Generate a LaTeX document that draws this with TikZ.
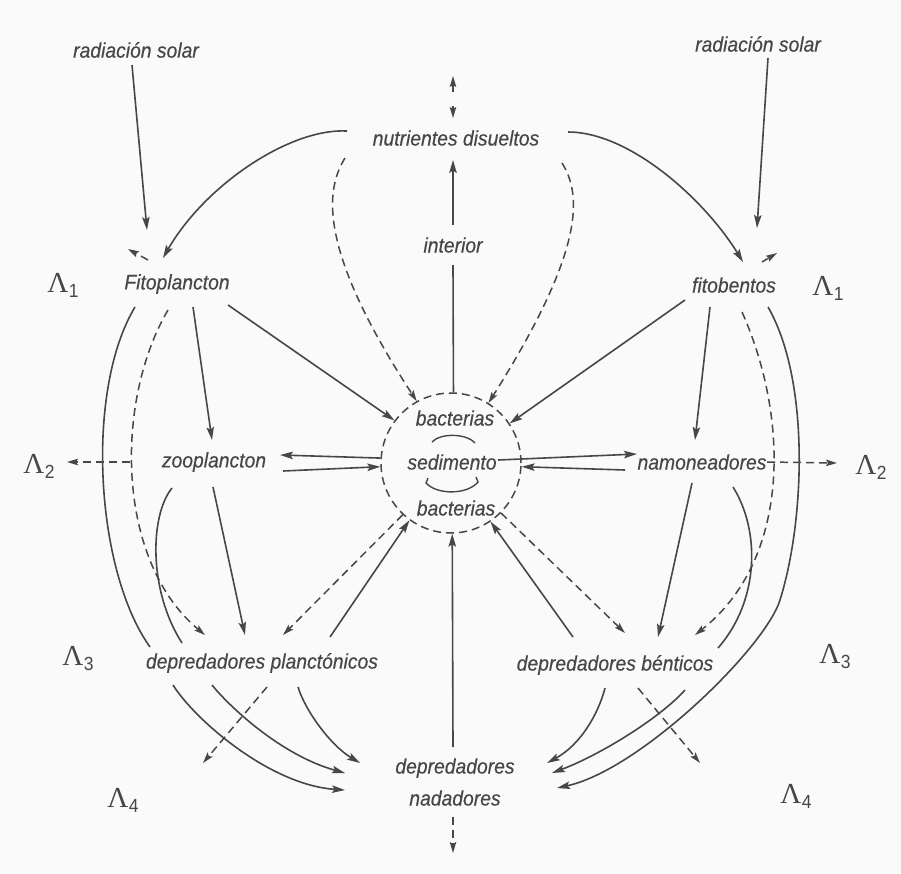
\documentclass[tikz,border=0pt]{standalone}
\usepackage{fontspec}
\setmainfont{Liberation Sans}[FakeStretch=0.92, ItalicFeatures={FakeBold=0.35}]
\newfontfamily\lamserif{Liberation Serif}
\usetikzlibrary{arrows.meta}
\definecolor{ink}{HTML}{474747}
\definecolor{paper}{HTML}{FAFAFA}
\newcommand{\lblfont}{\fontsize{21}{32}\selectfont\itshape}
\newcommand{\Lsym}[1]{{\lamserif\fontsize{29}{30}\selectfont Λ}\kern0.5pt\raisebox{-5pt}{\fontsize{19}{20}\selectfont #1}}
\tikzset{
  lbl/.style={font=\lblfont, text=ink, inner sep=1pt, align=center},
  lam/.style={text=ink, inner sep=0pt},
  con/.style={draw=ink, line width=1.6pt},
  arr/.style={con, -{Stealth[length=13pt,width=7.5pt,inset=2.5pt]}},
  dsh/.style={dash pattern=on 8pt off 5pt},
  dasharr/.style={con, line width=1.5pt, dsh, -{Stealth[length=11pt,width=6.5pt,inset=2pt]}},
}
\begin{document}
\begin{tikzpicture}[x=1pt,y=-1pt]
\fill[paper] (0,0) rectangle (901,873);
\useasboundingbox (0,0) rectangle (901,873);

% labels
\node[lbl] (rsL) at (136,50) {radiación solar};
\node[lbl] (rsR) at (758,44) {radiación solar};
\node[lbl] (nut) at (456,138) {nutrientes disueltos};
\node[lbl] (int) at (453,245) {interior};
\node[lbl] (fito) at (177,284) {Fitoplancton};
\node[lbl] (fbent) at (734,285) {fitobentos};
\node[lbl] (zoo) at (214,462) {zooplancton};
\node[lbl] (namo) at (702,462) {namoneadores};
\node[draw=ink, line width=1.5pt, dsh, circle, minimum size=140pt, inner sep=0pt] (sed) at (451,463) {};
\node[lbl] (bac1) at (455,418) {bacterias};
\node[lbl] (sedt) at (452,462) {sedimento};
\node[lbl] (bac2) at (456,508) {bacterias};
\node[lbl] (dplan) at (262,663) {depredadores planctónicos};
\node[lbl] (dbent) at (615,665) {depredadores bénticos};
\node[lbl] (dnad) at (455,782) {depredadores\\nadadores};

\node[lam] (L1a) at (63,285) {\Lsym{1}};
\node[lam] (L1b) at (828,288) {\Lsym{1}};
\node[lam] (L2a) at (39,466) {\Lsym{2}};
\node[lam] (L2b) at (871,467) {\Lsym{2}};
\node[lam] (L3a) at (78,659) {\Lsym{3}};
\node[lam] (L3b) at (835,657) {\Lsym{3}};
\node[lam] (L4a) at (123,800) {\Lsym{4}};
\node[lam] (L4b) at (796,796) {\Lsym{4}};

% arcs inside the sediment circle
\draw[con, line width=1.4pt] (432,442) .. controls (440,433) and (466,433) .. (475,443);
\draw[con, line width=1.4pt] (428,478) -- (426,483) .. controls (437,495) and (467,495) .. (478,482) -- (476,477);

% top
\draw[arr] ([shift={(-4,15)}]rsL.center) -- ([shift={(-30,-54)}]fito.center);
\draw[dasharr] ([shift={(-29,-24)}]fito.center) -- ([shift={(-49,-35)}]fito.center);
\draw[arr] ([shift={(-109,-7)}]nut.center) .. controls (290,128) and (205,185) .. ([shift={(-14,-26)}]fito.center);
\draw[arr] ([shift={(10,14)}]rsR.center) -- ([shift={(23,-57)}]fbent.center);
\draw[dasharr] ([shift={(28,-23)}]fbent.center) -- ([shift={(43,-32)}]fbent.center);
\draw[arr] ([shift={(112,-6)}]nut.center) .. controls (630,132) and (705,200) .. ([shift={(9,-23)}]fbent.center);
\draw[dasharr] ([shift={(-3,-46)}]nut.center) -- ([shift={(-3,-62)}]nut.center);
\draw[dasharr] ([shift={(-3,-32)}]nut.center) -- ([shift={(-3,-20)}]nut.center);
\draw[arr] ([shift={(0,-20)}]int.center) -- ([shift={(-3,22)}]nut.center);
\draw[con] (sed.88) -- ([shift={(0,20)}]int.center);
\draw[dasharr] ([shift={(-111,20)}]nut.center) .. controls (325,190) and (318,250) .. (sed.119);
\draw[dasharr] ([shift={(106,25)}]nut.center) .. controls (582,195) and (585,250) .. (sed.58);

% producers to sediment / consumers
\draw[arr] ([shift={(51,21)}]fito.center) -- (sed.143);
\draw[arr] ([shift={(-49,15)}]fbent.center) -- (sed.34);
\draw[arr] ([shift={(16,23)}]fito.center) -- ([shift={(-2,-22)}]zoo.center);
\draw[arr] ([shift={(-24,22)}]fbent.center) -- ([shift={(-7,-22)}]namo.center);

% horizontal exchanges
\draw[arr] (sed.176) -- ([shift={(66,-7)}]zoo.center);
\draw[arr] ([shift={(69,9)}]zoo.center) -- (sed.183);
\draw[arr] ([shift={(46,-2)}]sedt.center) -- ([shift={(-65,-8)}]namo.center);
\draw[arr] ([shift={(-77,8)}]namo.center) -- (sed.357);
\draw[dasharr] ([shift={(-84,0)}]zoo.center) -- ([shift={(28,-4)}]L2a.center);
\draw[dasharr] ([shift={(65,0)}]namo.center) -- ([shift={(-34,-4)}]L2b.center);

% left side
\draw[con] ([shift={(-42,23)}]fito.center) .. controls (85,390) and (95,570) .. ([shift={(-112,-16)}]dplan.center);
\draw[arr] ([shift={(-89,22)}]dplan.center) .. controls (195,720) and (270,785) .. ([shift={(-110,8)}]dnad.center);
\draw[con] ([shift={(-42,26)}]zoo.center) .. controls (150,515) and (148,590) .. ([shift={(-80,-20)}]dplan.center);
\draw[arr] ([shift={(-50,22)}]dplan.center) .. controls (228,705) and (280,755) .. ([shift={(-110,-9)}]dnad.center);
\draw[arr] ([shift={(36,24)}]dplan.center) .. controls (305,710) and (330,745) .. ([shift={(-95,-19)}]dnad.center);
\draw[dasharr] ([shift={(-9,26)}]fito.center) .. controls (115,400) and (115,560) .. ([shift={(-57,-28)}]dplan.center);
\draw[arr] ([shift={(-1,25)}]zoo.center) -- ([shift={(-17,-28)}]dplan.center);
\draw[dasharr] (sed.227) -- ([shift={(21,-28)}]dplan.center);
\draw[arr] ([shift={(68,-26)}]dplan.center) -- (sed.234);
\draw[dasharr] ([shift={(5,24)}]dplan.center) -- ([shift={(80,-37)}]L4a.center);

% centre bottom
\draw[arr] ([shift={(-2,-35)}]dnad.center) -- (sed.271);
\draw[dasharr] ([shift={(-2,35)}]dnad.center) -- ([shift={(-2,71)}]dnad.center);

% right side
\draw[arr] ([shift={(-42,-28)}]dbent.center) -- (sed.304);
\draw[dasharr] (sed.315) -- ([shift={(10,-32)}]dbent.center);
\draw[arr] ([shift={(-10,21)}]namo.center) -- ([shift={(43,-28)}]dbent.center);
\draw[dasharr] ([shift={(8,27)}]fbent.center) .. controls (790,420) and (790,560) .. ([shift={(80,-30)}]dbent.center);
\draw[con] ([shift={(31,25)}]namo.center) .. controls (760,530) and (760,600) .. ([shift={(103,-17)}]dbent.center);
\draw[arr] ([shift={(70,25)}]dbent.center) .. controls (660,718) and (600,755) .. ([shift={(97,-9)}]dnad.center);
\draw[arr] ([shift={(34,22)}]fbent.center) .. controls (810,380) and (805,520) .. (780,600) .. controls (765,648) and (640,770) .. ([shift={(102,6)}]dnad.center);
\draw[arr] ([shift={(-10,23)}]dbent.center) .. controls (598,715) and (580,745) .. ([shift={(92,-19)}]dnad.center);
\draw[dasharr] ([shift={(23,23)}]dbent.center) -- ([shift={(-96,-33)}]L4b.center);
\end{tikzpicture}
\end{document}
